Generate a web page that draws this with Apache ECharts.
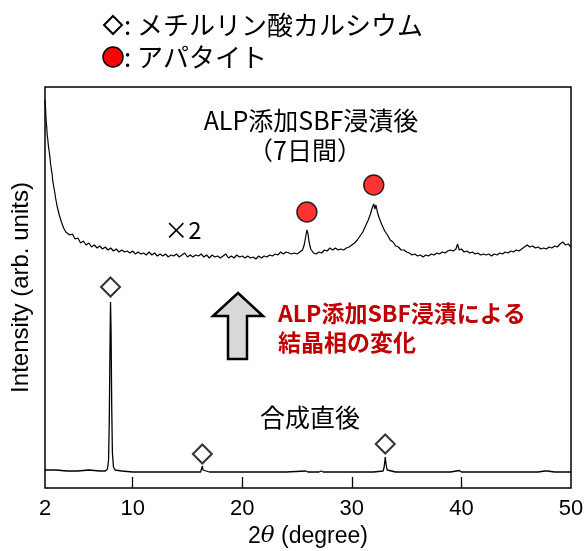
<!DOCTYPE html>
<html>
<head>
<meta charset="utf-8">
<script src="https://cdn.jsdelivr.net/npm/echarts@6/dist/echarts.min.js"></script>
<style>
  html, body { margin: 0; padding: 0; background: #fff; }
  #chart { width: 586px; height: 551px; }
</style>
</head>
<body>
<div id="chart"></div>
<script>
// XRD: ALP添加SBF浸漬後 (upper, x2) and 合成直後 (lower), intensity in plot units
var sbfPattern = [
  [2.0,388],[2.05,380],[2.1,368],[2.15,362],[2.2,353],[2.25,349],[2.3,343],[2.35,341],[2.4,335],[2.45,331],
  [2.5,325],[2.55,323],[2.6,317],[2.65,314],[2.7,308],[2.75,307],[2.8,301],[2.85,299],[2.9,295],[2.95,291],
  [3.0,289],[3.1,282],[3.2,280],[3.3,273],[3.4,271],[3.5,266],[3.6,266],[3.7,260],[3.8,261],[3.9,256],[4.0,258],
  [4.25,253],[4.5,254],[4.75,249],[5.0,250],[5.25,245],[5.5,247],[5.75,243],[6.0,245],[6.25,241],[6.5,243],
  [6.75,240],[7.0,242],[7.25,239],[7.5,241],[7.75,238],[8.0,240],[8.25,237],[8.5,239],[8.75,236],[9.0,238],
  [9.25,236],[9.5,237],[9.75,235],[10.0,237],[10.25,234],[10.5,236],[10.75,234],[11.0,235],[11.25,233],[11.5,236],
  [11.75,233],[12.0,235],[12.25,232],[12.5,234],[12.75,232],[13.0,234],[13.25,231],[13.5,233],[13.75,232],[14.0,234],
  [14.25,231],[14.5,233],[14.75,235],[15.0,231],[15.25,233],[15.5,231],[15.75,233],[16.0,232],[16.25,234],[16.5,231],
  [16.75,233],[17.0,230],[17.25,233],[17.5,231],[17.75,232],[18.0,230],[18.25,232],[18.5,234],[18.75,230],[19.0,232],
  [19.25,230],[19.5,233],[19.75,231],[20.0,232],[20.25,230],[20.5,232],[20.75,230],[21.0,231],[21.25,229],[21.5,232],
  [21.75,230],[22.0,232],[22.25,231],[22.5,233],[22.75,232],[23.0,234],[23.25,233],[23.5,236],[23.75,234],[24.0,236],
  [24.25,235],[24.5,234],[24.75,235],[25.0,234],[25.25,236],[25.5,238],[25.65,243],[25.8,252],[25.9,258],[26.0,254],
  [26.1,246],[26.25,239],[26.5,235],[26.75,234],[27.0,236],[27.25,235],[27.5,238],[27.75,237],[28.0,240],[28.25,238],
  [28.5,240],[28.75,238],[29.0,239],[29.25,238],[29.5,240],[29.75,241],[30.0,243],[30.25,245],[30.5,248],[30.75,252],
  [31.0,256],[31.25,262],[31.5,268],[31.7,274],[31.85,280],[32.0,284],[32.1,279],[32.2,283],[32.35,275],[32.5,270],
  [32.75,263],[33.0,257],[33.25,253],[33.5,248],[33.75,246],[34.0,242],[34.25,241],[34.5,238],[34.75,238],[35.0,236],
  [35.25,235],[35.5,233],[35.75,234],[36.0,232],[36.25,233],[36.5,231],[36.75,233],[37.0,232],[37.25,234],[37.5,233],
  [37.75,235],[38.0,234],[38.25,236],[38.5,235],[38.75,237],[39.0,238],[39.25,237],[39.5,239],[39.65,244],[39.8,238],
  [40.0,239],[40.25,236],[40.5,237],[40.75,235],[41.0,236],[41.25,234],[41.5,235],[41.75,233],[42.0,234],[42.25,233],
  [42.5,234],[42.75,232],[43.0,234],[43.25,233],[43.5,235],[43.75,234],[44.0,236],[44.25,235],[44.5,237],[44.75,236],
  [45.0,238],[45.25,237],[45.5,239],[45.75,241],[46.0,243],[46.25,241],[46.5,242],[46.75,240],[47.0,241],[47.25,239],
  [47.5,240],[47.75,239],[48.0,241],[48.25,240],[48.5,242],[48.75,241],[49.0,244],[49.25,246],[49.5,243],[49.75,244],
  [50.0,241]
];

var asSynthPattern = [
  [2.0,18],[3,18],[4,17],[5,17],[6,18],[7,17],[7.5,17],[7.7,19],[7.8,28],[7.87,70],[7.93,140],[7.98,186],
  [8.03,155],[8.09,80],[8.15,35],[8.25,21],[8.4,18],[9,17],[10,16],[11,16],[12,16],[13,16],[14,16],[15,16],
  [16.2,16],[16.3,18],[16.36,22],[16.42,18],[16.52,16],[17,16],[18,16],[19,16],[19.95,16],[20.05,18],[20.15,16],
  [21,16],[22,16],[23,16],[24,16],[25.8,17],[26,16],[27,16],[27.2,17],[27.4,16],[28,16],[29,16],[30,16],[31,16],
  [32,16],[32.85,17],[32.95,21],[33.05,31],[33.12,24],[33.22,18],[33.4,17],[34,16],[35,16],[36,16],[37,16],
  [38,16],[39,16],[39.8,17.5],[40,16],[41,16],[42,16],[43,16],[44,16],[45,16],[46,16],[47,16],[47.6,17],
  [47.7,19],[47.85,17],[48.5,16],[50,16]
];

// peak markers
var methylPhosphateMarks = [[7.98,201],[16.36,34],[33.05,44]];
var apatiteMarks = [[25.9,276],[32.0,303]];

var xTickValues = [10, 20, 30, 40];
var xLabelValues = [2, 10, 20, 30, 40, 50];

var jpFont = "Noto Sans CJK JP";
var latinFont = "Liberation Sans";

var chart = echarts.init(document.getElementById("chart"));
chart.setOption({
  animation: false,
  grid: {
    left: 45,
    right: 15,
    top: 87,
    bottom: 63,
    containLabel: false,
    outerBoundsMode: "none",
    show: true,
    borderColor: "#000",
    borderWidth: 1.5
  },
  xAxis: {
    type: "value",
    min: 2,
    max: 50,
    axisLine: { show: false },
    splitLine: { show: false },
    axisTick: {
      inside: true,
      length: 11,
      customValues: xTickValues,
      lineStyle: { color: "#000", width: 1.3 }
    },
    axisLabel: {
      customValues: xLabelValues,
      color: "#000",
      fontSize: 22,
      fontFamily: latinFont,
      margin: 10
    },
    name: "{n|2}{t|θ}{n| (degree)}",
    nameLocation: "middle",
    nameGap: 36,
    nameTextStyle: {
      rich: {
        n: { fontSize: 23, fontFamily: latinFont, color: "#000" },
        t: { fontSize: 23, fontFamily: "DejaVu Serif", fontStyle: "italic", color: "#000" }
      }
    }
  },
  yAxis: {
    type: "value",
    min: 0,
    max: 401,
    axisLine: { show: false },
    axisTick: { show: false },
    axisLabel: { show: false },
    splitLine: { show: false },
    name: "Intensity (arb. units)",
    nameLocation: "middle",
    nameGap: 12,
    nameTextStyle: { fontSize: 24, fontFamily: latinFont, color: "#000" }
  },
  series: [
    {
      name: "ALP添加SBF浸漬後",
      type: "line",
      data: sbfPattern,
      showSymbol: false,
      lineStyle: { color: "#000", width: 1.2 },
      z: 2
    },
    {
      name: "合成直後",
      type: "line",
      data: asSynthPattern,
      showSymbol: false,
      lineStyle: { color: "#000", width: 1.3 },
      z: 2
    },
    {
      name: "メチルリン酸カルシウム",
      type: "scatter",
      data: methylPhosphateMarks,
      symbol: "diamond",
      symbolSize: 19,
      itemStyle: { color: "#fff", borderColor: "#000", borderWidth: 2 },
      z: 3
    },
    {
      name: "アパタイト",
      type: "scatter",
      data: apatiteMarks,
      symbol: "circle",
      symbolSize: 20,
      itemStyle: { color: "#ff0000", borderColor: "#000", borderWidth: 1.5 },
      z: 3
    }
  ],
  graphic: [
    {
      type: "polygon",
      shape: { points: [[113, 16], [122, 25], [113, 34], [104, 25]] },
      style: { fill: "#fff", stroke: "#000", lineWidth: 2 }
    },
    {
      type: "text", x: 124, y: 25,
      style: { text: ": メチルリン酸カルシウム", font: "26px " + jpFont, fill: "#000", verticalAlign: "middle" }
    },
    {
      type: "circle",
      shape: { cx: 113, cy: 57, r: 10 },
      style: { fill: "#ff0000", stroke: "#000", lineWidth: 1.5 }
    },
    {
      type: "text", x: 124, y: 57,
      style: { text: ": アパタイト", font: "26px " + jpFont, fill: "#000", verticalAlign: "middle" }
    },
    {
      type: "text", x: 311, y: 120,
      style: { text: "ALP添加SBF浸漬後", font: "25px " + jpFont, fill: "#000", align: "center", verticalAlign: "middle" }
    },
    {
      type: "text", x: 305, y: 150,
      style: { text: "（7日間）", font: "25px " + jpFont, fill: "#000", align: "center", verticalAlign: "middle" }
    },
    {
      type: "text", x: 183, y: 230,
      style: { text: "×2", font: "24px " + jpFont, fill: "#000", align: "center", verticalAlign: "middle" }
    },
    {
      type: "text", x: 310, y: 417,
      style: { text: "合成直後", font: "25px " + jpFont, fill: "#000", align: "center", verticalAlign: "middle" }
    },
    {
      type: "polygon",
      shape: { points: [[238, 293], [263, 316], [247, 316], [247, 359], [228, 359], [228, 316], [213, 316]] },
      style: { fill: "#d9d9d9", stroke: "#000", lineWidth: 2.5 }
    },
    {
      type: "text", x: 278, y: 313,
      style: { text: "ALP添加SBF浸漬による", font: "bold 23px " + jpFont, fill: "#c00000", verticalAlign: "middle" }
    },
    {
      type: "text", x: 278, y: 342,
      style: { text: "結晶相の変化", font: "bold 23px " + jpFont, fill: "#c00000", verticalAlign: "middle" }
    }
  ]
});
</script>
</body>
</html>
